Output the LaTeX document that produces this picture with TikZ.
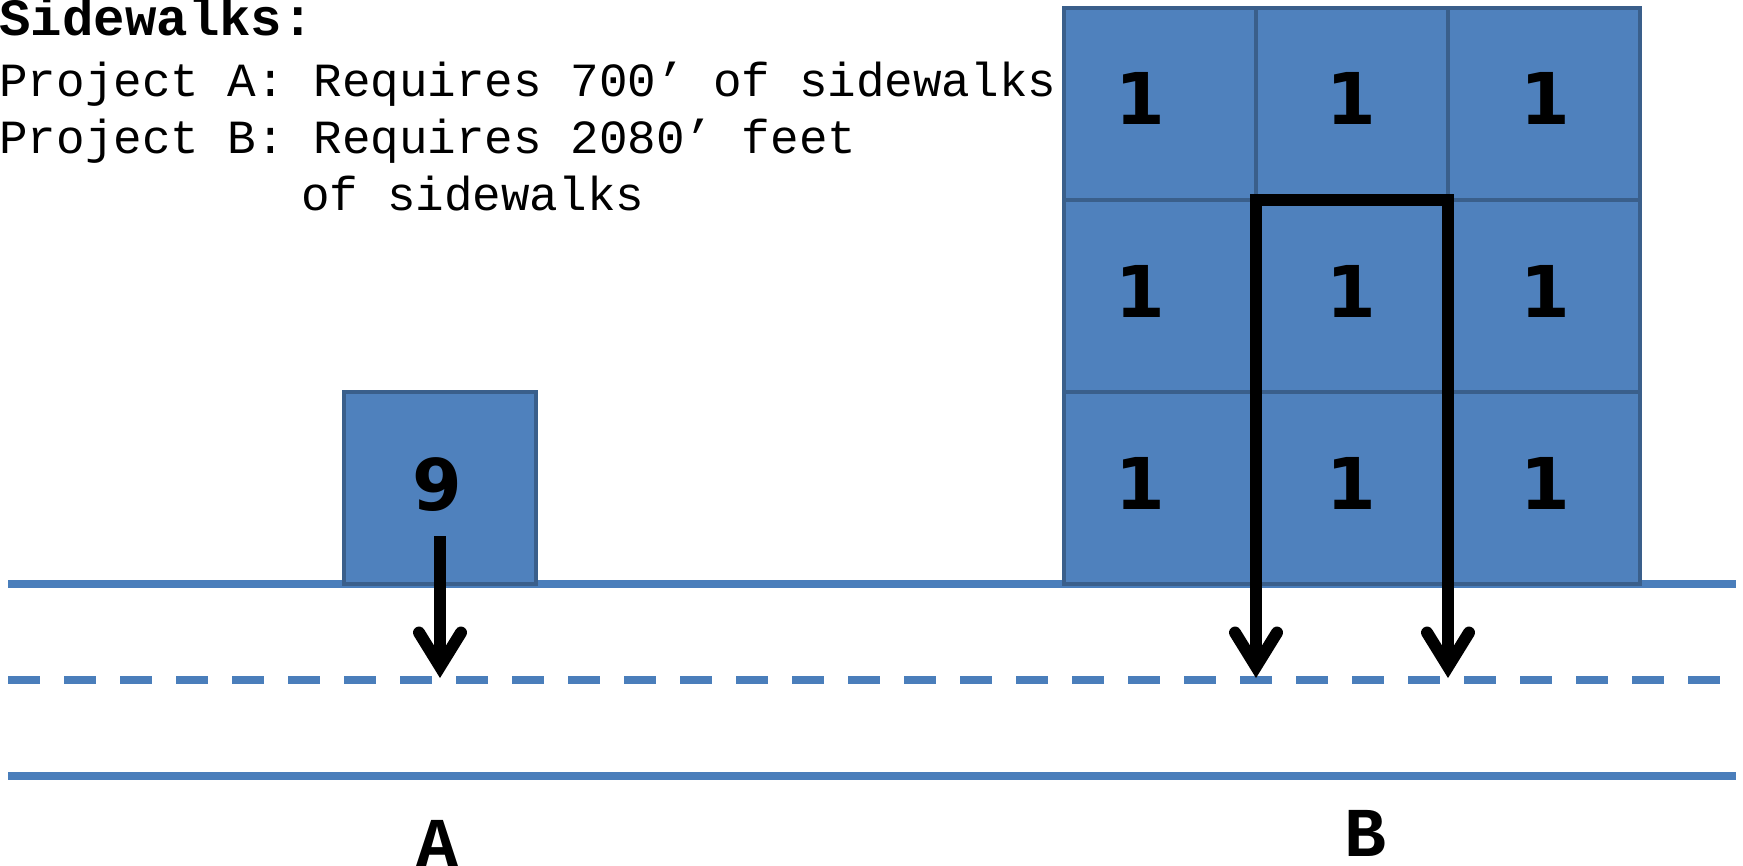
\documentclass[tikz,border=0pt]{standalone}
\usepackage{fontspec}
\setmainfont{Liberation Mono}
\newfontfamily\digitfont{DejaVu Sans}
\usetikzlibrary{arrows.meta}
\definecolor{boxfill}{HTML}{4F81BD}
\definecolor{boxedge}{HTML}{3A5F8B}
\definecolor{roadblue}{HTML}{4A7EBB}
\begin{document}
\begin{tikzpicture}[x=0.5pt,y=-0.5pt,
  road/.style={draw=roadblue,line width=4pt},
  cell/.style={draw=boxedge,fill=boxfill,line width=2.25pt,minimum width=96pt,minimum height=96pt,inner sep=0pt},
  walk/.style={draw=black,line width=6pt},
  barb/.tip={Straight Barb[length=17pt,width=21pt,line cap=round,line join=miter]},
  digit/.style={font=\digitfont\bfseries\fontsize{35.7}{36}\selectfont,anchor=base,inner sep=0pt},
  txt/.style={font=\fontsize{23.8}{28}\selectfont,anchor=base west,inner sep=0pt},
  ttl/.style={font=\bfseries\fontsize{26.2}{30}\selectfont,anchor=base west,inner sep=0pt},
  lbl/.style={font=\bfseries\fontsize{35}{40}\selectfont,anchor=base,inner sep=0pt}]
\useasboundingbox (0,0) rectangle (1743,866);
% road lines
\coordinate (r1w) at (8,584);  \coordinate (r1e) at (1736,584);
\coordinate (r2w) at (8,680);  \coordinate (r2e) at (1736,680);
\coordinate (r3w) at (8,776);  \coordinate (r3e) at (1736,776);
\draw[road] (r1w) -- (r1e);
\draw[road,dash pattern=on 16pt off 12pt] (r2w) -- (r2e);
\draw[road] (r3w) -- (r3e);
% project A box
\node[cell] (boxA) at (440,488) {};
\node[digit] (nine) at (437.5,510) {9};
% project B grid
\node[cell] (c11) at (1160,104) {};
\node[cell] (c12) at (1352,104) {};
\node[cell] (c13) at (1544,104) {};
\node[cell] (c21) at (1160,296) {};
\node[cell] (c22) at (1352,296) {};
\node[cell] (c23) at (1544,296) {};
\node[cell] (c31) at (1160,488) {};
\node[cell] (c32) at (1352,488) {};
\node[cell] (c33) at (1544,488) {};
\foreach \r/\y in {1/125,2/317,3/509}{
  \node[digit] (d\r1) at (1140,\y) {1};
  \node[digit] (d\r2) at (1351,\y) {1};
  \node[digit] (d\r3) at (1545,\y) {1};
}
% sidewalk arrows
\coordinate (aStart) at (440,536);
\coordinate (aTip) at (440,678);
\draw[walk,-barb] (aStart) -- (aTip);
\coordinate (bTipL) at (1256,678);
\coordinate (bTopL) at (1256,200);
\coordinate (bTopR) at (1448,200);
\coordinate (bTipR) at (1448,678);
\draw[walk,barb-barb] (bTipL) -- (bTopL) -- (bTopR) -- (bTipR);
% texts
\node[ttl] (title) at (-1,36) {Sidewalks:};
\node[txt] (pa) at (-1,97) {Project A: Requires 700’ of sidewalks};
\node[txt] (pb) at (-1,154) {Project B: Requires 2080’ feet};
\node[txt] (pb2) at (301,211) {of sidewalks};
\node[lbl] (labA) at (437,866) {A};
\node[lbl] (labB) at (1365,856) {B};
\end{tikzpicture}
\end{document}
